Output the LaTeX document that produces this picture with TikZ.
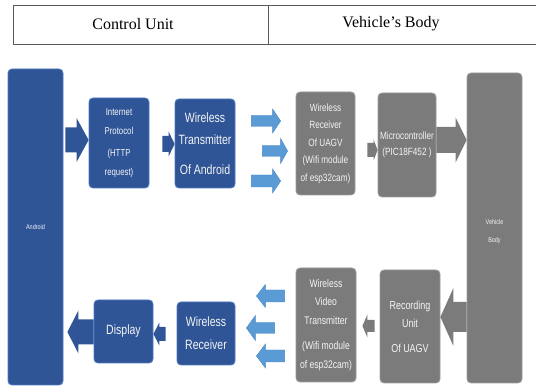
\documentclass[tikz,border=0pt]{standalone}
\usepackage{fontspec}
\setmainfont{Liberation Serif}
\newfontfamily\hdserif{Liberation Serif}
\newfontfamily\nar[FakeStretch=0.78]{Liberation Sans}
\usetikzlibrary{calc}
\definecolor{dblue}{HTML}{2F5597}
\definecolor{bedge}{HTML}{4F78C0}
\definecolor{lblue}{HTML}{5B9BD5}
\definecolor{ledge}{HTML}{4A88C8}
\definecolor{gbox}{HTML}{7B7B7B}
\definecolor{gedge}{HTML}{9C9C9C}
\definecolor{txt}{HTML}{F4F4F4}
% #1 style, #2 from, #3 to, #4 shaft half width, #5 head half width, #6 head length
\newcommand\blockarr[6]{%
  \path[#1] let \p1=#2, \p2=#3, \n1={sign(\x2-\x1)} in
    (\x1,\y1+#4pt) -- (\x2-\n1*#6pt,\y1+#4pt) -- (\x2-\n1*#6pt,\y1+#5pt) -- (\x2,\y1)
    -- (\x2-\n1*#6pt,\y1-#5pt) -- (\x2-\n1*#6pt,\y1-#4pt) -- (\x1,\y1-#4pt) -- cycle;}
\begin{document}
\begin{tikzpicture}[x=1pt,y=-1pt,
  bbox/.style={fill=dblue,draw=bedge,line width=0.8pt,rounded corners=4pt,text=txt,align=center,inner sep=0pt},
  gbx/.style={fill=gbox,draw=gedge,line width=0.8pt,rounded corners=4pt,text=txt,align=center,inner sep=0pt},
  darr/.style={fill=dblue},
  larr/.style={fill=lblue,draw=ledge,line width=0.4pt},
  garr/.style={fill=gbox},
  tline/.style={draw=black!65,line width=0.7pt},
  head/.style={font=\hdserif\fontsize{16}{19}\selectfont,inner sep=0pt}]
\useasboundingbox (0,0) rectangle (536,387);
% header table
\draw[tline] (13,44) -- (13,5) -- (536,5);
\draw[tline] (13,44) -- (536,44);
\draw[tline,line width=1.3pt] (268.5,5) -- (268.5,44);
\node[head] (hcu) at (133,24) {Control Unit};
\node[head] (hvb) at (391,24) {Vehicle’s Body};
% boxes
\node[bbox,minimum width=55,minimum height=316,font=\nar\fontsize{7}{9}\selectfont] (android) at (35.5,227) {Android};
\node[bbox,minimum width=60,minimum height=90,font=\nar\fontsize{10}{18.5}\selectfont] (ip) at (119,143) {Internet\\Protocol\\[4pt](HTTP\\request)};
\node[bbox,minimum width=60,minimum height=89,font=\nar\fontsize{13.5}{22}\selectfont] (wt) at (205,143.5) {Wireless\\Transmitter\\[8pt]Of Android};
\node[gbx,minimum width=59,minimum height=103,font=\nar\fontsize{10.5}{17.5}\selectfont] (wru) at (325.5,143.5) {Wireless\\Receiver\\Of UAGV\\(Wifi module\\of esp32cam)};
\node[gbx,minimum width=58,minimum height=104,font=\nar\fontsize{10.5}{16}\selectfont] (mc) at (407,145) {Microcontroller\\(PIC18F452 )};
\node[gbx,minimum width=55,minimum height=310,
  label={[text=txt,align=center,inner sep=0pt,font=\nar\fontsize{7}{18}\selectfont,yshift=-4pt]center:{Vehicle\\Body}}] (vb) at (494.5,228) {};
\node[gbx,minimum width=60,minimum height=113,font=\nar\fontsize{11.5}{18}\selectfont] (rec) at (410,326.5) {Recording\\Unit\\[7pt]Of UAGV};
\node[gbx,minimum width=60,minimum height=114,font=\nar\fontsize{11}{18.5}\selectfont] (wvt) at (326,325) {Wireless\\Video\\Transmitter\\[7pt](Wifi module\\of esp32cam)};
\node[bbox,minimum width=58,minimum height=63,font=\nar\fontsize{13.5}{23}\selectfont] (wr) at (206,333.5) {Wireless\\Receiver};
\node[bbox,minimum width=59,minimum height=63,font=\nar\fontsize{13.5}{16}\selectfont] (disp) at (123.5,331.5) {Display};
% top row arrows
\blockarr{darr}{($(android.east |- 0,140)+(2,0)$)}{(ip.west |- 0,140)}{12.5}{22}{12}
\blockarr{darr}{($(ip.east |- 0,144)+(13,0)$)}{(wt.west |- 0,144)}{8}{12.5}{6}
\blockarr{larr}{($(wt.east |- 0,121)+(16,0)$)}{($(wru.west |- 0,121)+(-15,0)$)}{5.5}{12}{8}
\blockarr{larr}{($(wt.east |- 0,151)+(27,0)$)}{($(wru.west |- 0,151)+(-8,0)$)}{5.5}{12.5}{7}
\blockarr{larr}{($(wt.east |- 0,181)+(16,0)$)}{($(wru.west |- 0,181)+(-15,0)$)}{6}{12}{8}
\blockarr{garr}{($(wru.east |- 0,150)+(12,0)$)}{(mc.west |- 0,150)}{7}{10.5}{4}
\blockarr{garr}{(mc.east |- 0,140)}{(vb.west |- 0,140)}{13}{22.5}{11}
% bottom row arrows
\blockarr{garr}{(vb.west |- 0,317)}{(rec.east |- 0,317)}{15}{29}{13}
\blockarr{garr}{($(rec.west |- 0,326)+(-5,0)$)}{($(wvt.east |- 0,326)+(6,0)$)}{6}{11.5}{5}
\blockarr{larr}{($(wvt.west |- 0,296)+(-11,0)$)}{($(wr.east |- 0,296)+(21,0)$)}{6}{11.5}{9}
\blockarr{larr}{($(wvt.west |- 0,328)+(-21,0)$)}{($(wr.east |- 0,328)+(11,0)$)}{5.5}{12.5}{9}
\blockarr{larr}{($(wvt.west |- 0,356)+(-11,0)$)}{($(wr.east |- 0,356)+(21,0)$)}{6}{12}{9}
\blockarr{darr}{($(wr.west |- 0,334)+(-11,0)$)}{(disp.east |- 0,334)}{7}{11.5}{6}
\blockarr{darr}{(disp.west |- 0,332)}{($(android.east |- 0,332)+(4,0)$)}{12.5}{21.5}{11}
\end{tikzpicture}
\end{document}
